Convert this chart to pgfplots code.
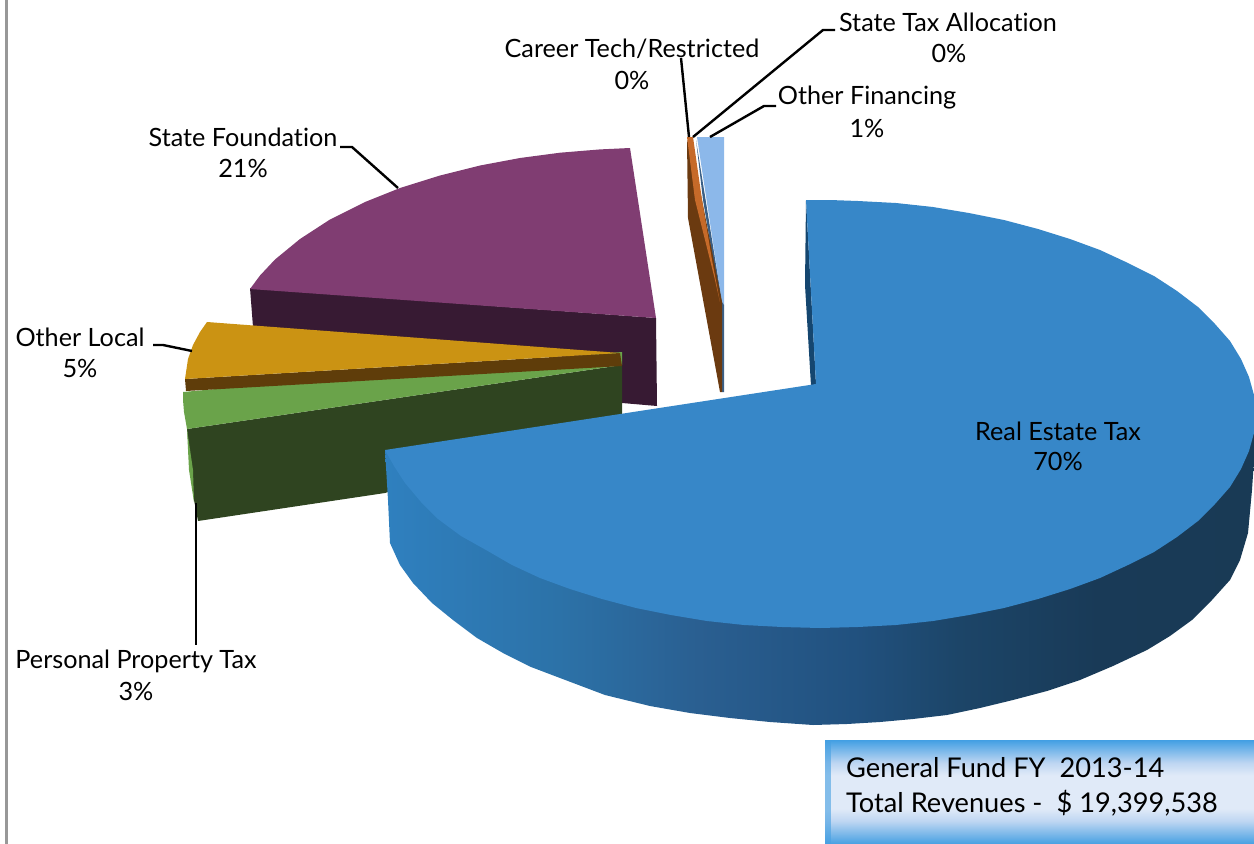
\documentclass[border=0pt]{standalone}
\usepackage{pgfplots}
\pgfplotsset{compat=1.18}
\usepackage{fontspec}
\setmainfont[Ligatures=NoCommon]{Lato}
\definecolor{blueTop}{HTML}{3787C8}
\definecolor{blueIn}{HTML}{15466F}
\definecolor{purTop}{HTML}{803D72}
\definecolor{purDk}{HTML}{371A33}
\definecolor{gold}{HTML}{CB9313}
\definecolor{goldDk}{HTML}{5F3D0A}
\definecolor{grn}{HTML}{6AA34A}
\definecolor{grnDk}{HTML}{2F4420}
\definecolor{ltBlue}{HTML}{8CB8EA}
\definecolor{slate}{HTML}{3A5F86}
\definecolor{orng}{HTML}{C66A29}
\definecolor{brwn}{HTML}{6B3A10}
\definecolor{grayLine}{HTML}{989898}
\pgfdeclarehorizontalshading{sideblue}{100bp}{
 color(0bp)=(rgb,255:red,47;green,128;blue,191);
 color(25bp)=(rgb,255:red,47;green,128;blue,191);
 color(35bp)=(rgb,255:red,44;green,114;blue,168);
 color(43bp)=(rgb,255:red,42;green,95;blue,145);
 color(52bp)=(rgb,255:red,33;green,81;blue,127);
 color(58bp)=(rgb,255:red,28;green,69;blue,104);
 color(66bp)=(rgb,255:red,25;green,58;blue,87);
 color(75bp)=(rgb,255:red,25;green,58;blue,85);
 color(100bp)=(rgb,255:red,25;green,58;blue,85)}
\pgfdeclareverticalshading{boxblue}{100bp}{
 color(0bp)=(rgb,255:red,70;green,160;blue,226);
 color(25bp)=(rgb,255:red,70;green,160;blue,226);
 color(36bp)=(rgb,255:red,190;green,214;blue,242);
 color(42bp)=(rgb,255:red,224;green,234;blue,248);
 color(58bp)=(rgb,255:red,224;green,234;blue,248);
 color(64bp)=(rgb,255:red,190;green,214;blue,242);
 color(75bp)=(rgb,255:red,66;green,159;blue,227);
 color(100bp)=(rgb,255:red,66;green,159;blue,227)}
\tikzset{lbl/.style={font=\fontsize{25.2}{28}\selectfont,text=black,inner sep=0pt,anchor=center,yshift=-1pt},
 lead/.style={draw=black,line width=2.4pt,line join=round},
 face/.style={fill=#1,draw=none}}
\begin{document}
\begin{tikzpicture}
\begin{axis}[
  scale only axis,width=1254pt,height=844pt,
  xmin=0,xmax=1254,ymin=0,ymax=844,y dir=reverse,
  hide axis,clip=true,no marks]
% keeps the page as large as the plot area
\addplot[draw=none] coordinates {(0,0)(1254,0)(1254,844)(0,844)} --cycle;
% page edge rule
\addplot[draw=grayLine,line width=3pt] coordinates {(6,0)(6,844)};
% state foundation
\addplot[face=purDk] coordinates {(250,288)(656,318)(657,406)(622,403)(622,360)(254,340)} --cycle;
\addplot[face=purTop] coordinates {(250,289)(260,275.5)(275,259.5)(300,239)(330,219.5)(365,202)(400,188)(440,175.5)(480,165.5)(520,158)(560,152.7)(600,149.4)(630,148)(656,318)} --cycle;
% personal property
\addplot[face=grnDk] coordinates {(187,429)(622,365)(622,420)(385,493)(198,521)(194,500)} --cycle;
\addplot[face=grn] coordinates {(187,429)(189,470)(194,502)(193,470)} --cycle;
\addplot[face=grn] coordinates {(183,392)(183,400)(184,412)(187,429)(622,365)(622,352)} --cycle;
% other local
\addplot[face=goldDk] coordinates {(185,379)(186,391)(622,366)(620,353)} --cycle;
\addplot[face=gold] coordinates {(207,322)(200,332)(193,345)(188,359)(185,379)(620,353)} --cycle;
% other financing
\addplot[face=ltBlue] coordinates {(697,137)(724,137)(724,305)(722,302)} --cycle;
\addplot[face=slate] coordinates {(696,140)(722,302)(724,305)(724,392)(722,392)(720,302)(703,200)} --cycle;
% career tech / state tax
\addplot[face=brwn] coordinates {(687,140)(688,218)(720,392)(722,392)(722,302)(702,200)(694,160)} --cycle;
\addplot[face=orng] coordinates {(687,137)(693,137)(702,200)(712,260)(720,302)(715,280)(695,200)} --cycle;
% real estate
\addplot[shading=sideblue,draw=none] coordinates {(385,450)(388,500)(390,543)(400,565)(413,583)(432,603)(453,620)(477,638)(503,653)(531,667)(560,678)(605,695)(650,706)(690,713)(730,718)(770,722)(813,725)(847,724)(880,722)(913,719)(947,715)(980,708)(1013,700)(1047,691)(1080,680)(1113,666)(1147,650)(1170,636)(1192,620)(1212,600)(1230,580)(1240,560)(1248,533)(1252,490)(1254,460)(1254,430)(1000,500)} --cycle;
\addplot[face=blueIn] coordinates {(806,200)(805,285)(811,386)(816,384)} --cycle;
\addplot[face=blueTop] coordinates {(806,200)(830,200)(858,201)(896,203)(933,207)(969,213)(1004,220)(1038,229)(1070,239)(1100,250)(1128,263)(1154,276)(1177,291)(1198,307)(1215,324)(1230,341)(1241,359)(1249,377)(1254,395)(1254,414)(1254,433)(1249,451)(1241,469)(1230,487)(1215,504)(1198,521)(1177,537)(1154,552)(1128,565)(1100,578)(1070,589)(1038,599)(1004,608)(969,615)(933,621)(896,625)(858,627)(820,628)(782,627)(744,625)(707,621)(671,615)(636,608)(602,599)(570,589)(540,578)(512,565)(486,550)(461,536)(438,519)(421,502)(405,483)(394,466)(385,450)(816,384)} --cycle;
% leader lines
\addplot[lead] coordinates {(681,58)(689,137)};
\addplot[lead] coordinates {(693,137)(823,30)(835,30)};
\addplot[lead] coordinates {(710,137)(764,106)(776,106)};
\addplot[lead] coordinates {(340,147)(352,147)(398,188)};
\addplot[lead] coordinates {(153,345)(163,345)(192,351)};
\addplot[lead] coordinates {(196,503)(196,645)};
% total box
\addplot[shading=boxblue,draw=none] coordinates {(825,740)(1254,740)(1254,844)(825,844)} --cycle;
\addplot[fill={rgb,255:red,70;green,160;blue,226},fill opacity=0.6,draw=none] coordinates {(825,740)(831,740)(831,844)(825,844)} --cycle;
% labels
\node[lbl] at (axis cs:632,48) {Career Tech/Restricted};
\node[lbl] at (axis cs:632,79) {0\%};
\node[lbl] at (axis cs:948,21) {State Tax Allocation};
\node[lbl] at (axis cs:949,52) {0\%};
\node[lbl] at (axis cs:867,97) {Other Financing};
\node[lbl] at (axis cs:867,127) {1\%};
\node[lbl] at (axis cs:243,136) {State Foundation};
\node[lbl] at (axis cs:243,167) {21\%};
\node[lbl] at (axis cs:80,336) {Other Local};
\node[lbl] at (axis cs:80,367) {5\%};
\node[lbl] at (axis cs:136,660) {Personal Property Tax};
\node[lbl] at (axis cs:136,690) {3\%};
\node[lbl] at (axis cs:1058,430) {Real Estate Tax};
\node[lbl] at (axis cs:1058,460) {70\%};
\node[lbl,anchor=west,font=\fontsize{27.2}{32}\selectfont] at (axis cs:846,767) {General Fund FY\ \ 2013-14};
\node[lbl,anchor=west,font=\fontsize{27.2}{32}\selectfont] at (axis cs:846,802) {Total Revenues -\ \ \$ 19,399,538};
\end{axis}
\end{tikzpicture}
\end{document}
